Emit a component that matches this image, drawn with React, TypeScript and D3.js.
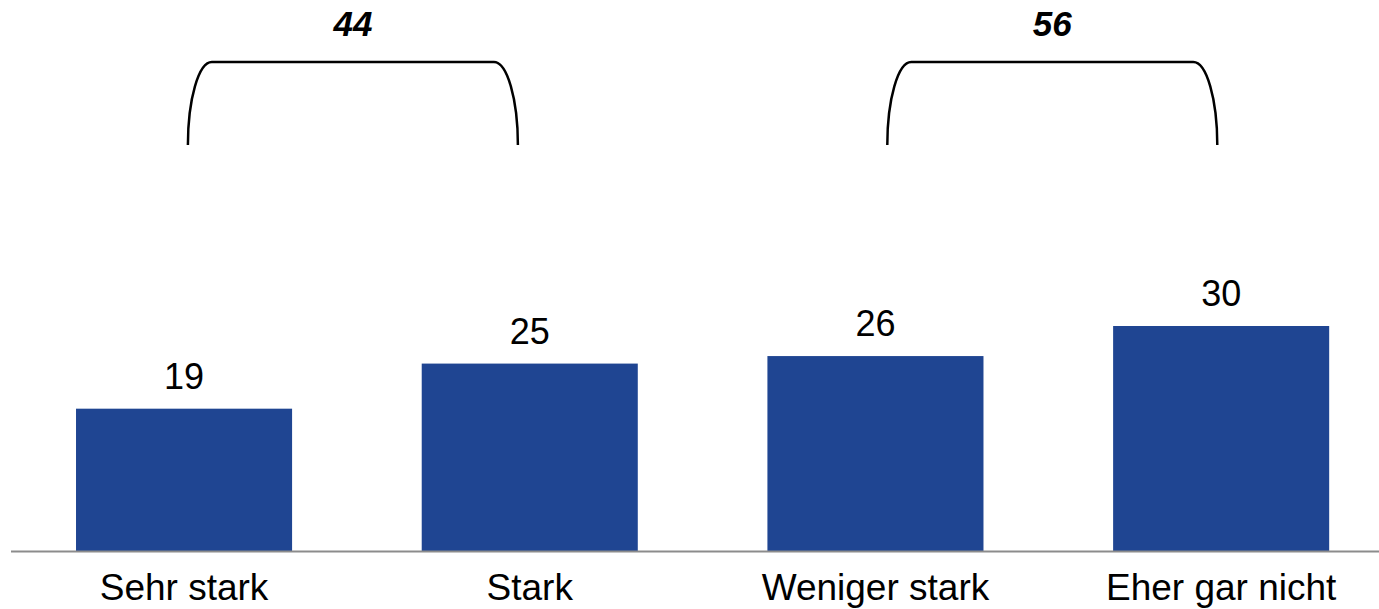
import React from "react";
import * as d3 from "d3";

const categories = ["Sehr stark", "Stark", "Weniger stark", "Eher gar nicht"];
const values = [19, 25, 26, 30];
// Summed groups shown above the bars with a bracket
const groupMembers = [
  [0, 1],
  [2, 3],
];
const groupTotals = [44, 56];

const WIDTH = 1379;
const HEIGHT = 609;
const BASELINE = 551.5;
const FONT = "'Liberation Sans', Arial, sans-serif";
const BAR_COLOR = "#1f4592";

export default function App() {
  const x = d3
    .scaleBand<string>()
    .domain(categories)
    .range([11.2, 1394])
    .paddingInner(0.375)
    .paddingOuter(0.1875);

  const y = d3.scaleLinear().domain([0, 30]).range([BASELINE, 326]);

  const center = (i: number) => (x(categories[i]) as number) + x.bandwidth() / 2;
  const chartMid = (center(0) + center(categories.length - 1)) / 2;

  const bracketHalf = 165;
  const bracketTop = 62;
  const bracketBottom = 145;
  const cornerRx = 24;

  return (
    <svg
      width={WIDTH}
      height={HEIGHT}
      style={{ position: "absolute", left: 0, top: 0, background: "#fff" }}
      fontFamily={FONT}
    >
      {categories.map((c, i) => (
        <rect
          key={c}
          x={x(c)}
          y={y(values[i])}
          width={x.bandwidth()}
          height={BASELINE - y(values[i])}
          fill={BAR_COLOR}
        />
      ))}

      <line x1={11} x2={WIDTH} y1={BASELINE} y2={BASELINE} stroke="#8c8c8c" strokeWidth={2} />

      {categories.map((c, i) => (
        <text key={"v" + c} x={center(i)} y={y(values[i]) - 20} textAnchor="middle" fontSize={36} fill="#000">
          {values[i]}
        </text>
      ))}

      {categories.map((c, i) => (
        <text key={"l" + c} x={center(i)} y={600} textAnchor="middle" fontSize={37} fill="#000">
          {c}
        </text>
      ))}

      {groupMembers.map((members, g) => {
        const groupMid = (center(members[0]) + center(members[members.length - 1])) / 2;
        // brackets sit slightly outward from the pair's centre
        const mid = groupMid + Math.sign(groupMid - chartMid) * 4;
        const l = mid - bracketHalf;
        const r = mid + bracketHalf;
        const ry = bracketBottom - bracketTop;
        const p =
          `M${l},${bracketBottom} A${cornerRx},${ry} 0 0 1 ${l + cornerRx},${bracketTop}` +
          ` L${r - cornerRx},${bracketTop} A${cornerRx},${ry} 0 0 1 ${r},${bracketBottom}`;
        return (
          <g key={"g" + g}>
            <path d={p} fill="none" stroke="#000" strokeWidth={2.5} />
            <text
              x={mid}
              y={36}
              textAnchor="middle"
              fontSize={35}
              fontWeight="bold"
              fontStyle="italic"
              fill="#000"
            >
              {groupTotals[g]}
            </text>
          </g>
        );
      })}
    </svg>
  );
}
